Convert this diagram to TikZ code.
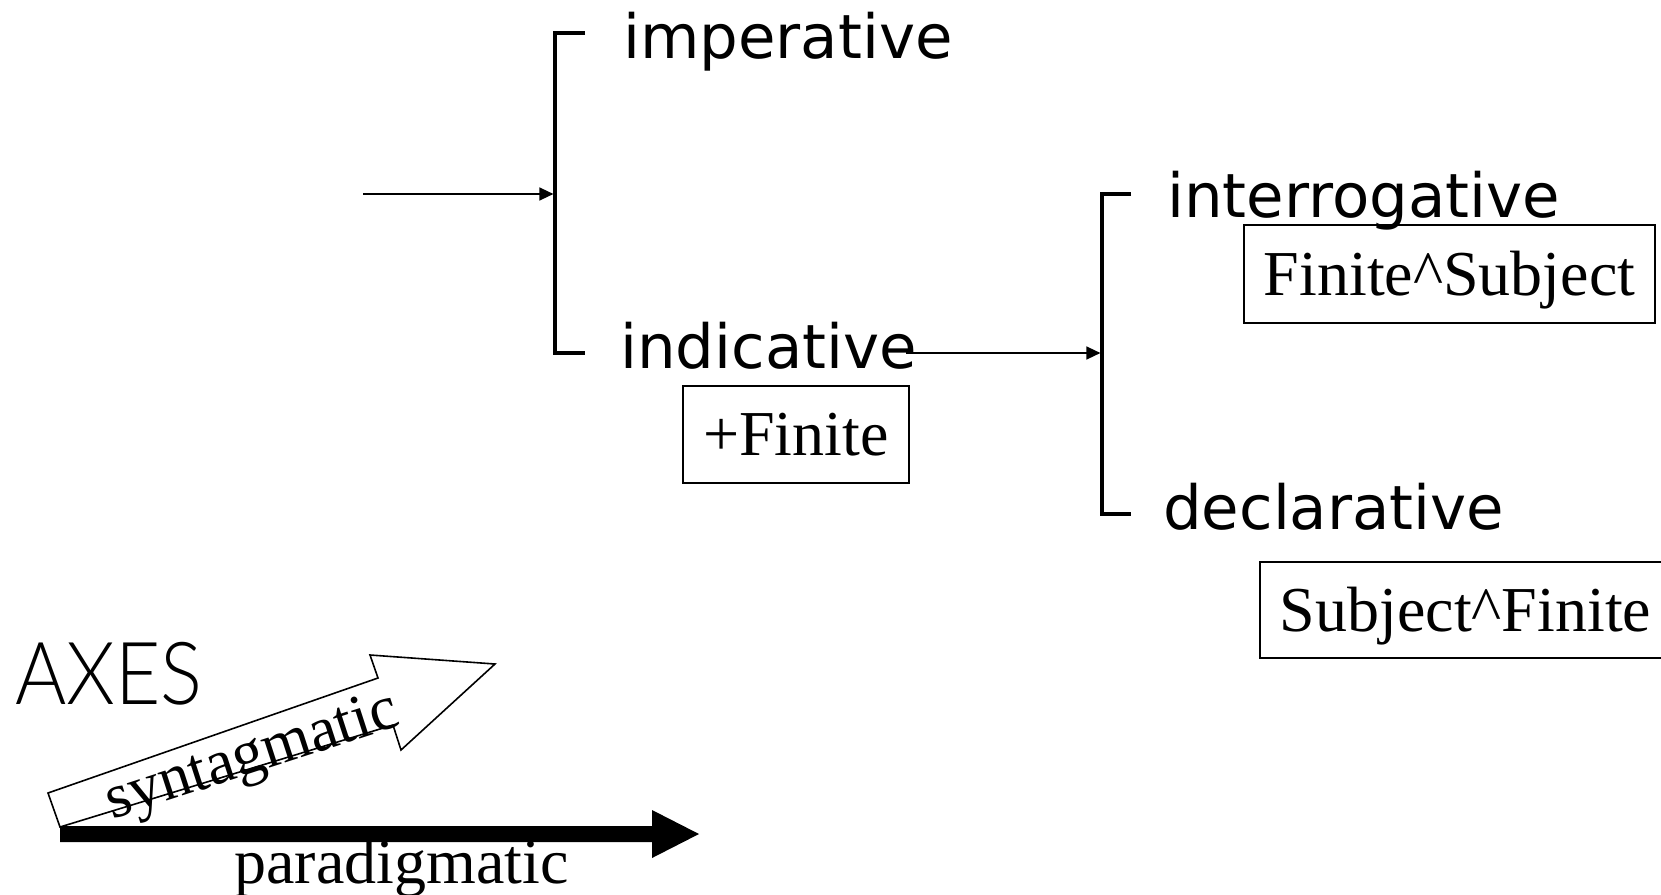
\documentclass[tikz,border=0pt]{standalone}
\usepackage{fontspec}
\usepackage{graphicx}
\setmainfont{Liberation Serif}
\newfontfamily\labelfont{DejaVu Sans}
\newfontfamily\axesfont{Lato Light}
\usetikzlibrary{arrows.meta}
\begin{document}
\begin{tikzpicture}[x=1pt,y=-1pt,
  opt/.style={font=\labelfont\fontsize{61}{73}\selectfont, anchor=base west, inner sep=0pt},
  realbox/.style={draw, line width=1.6pt, font=\fontsize{64}{76}\selectfont, inner sep=0pt, text height=42pt, text depth=0pt},
  realtext/.style={font=\fontsize{64}{76}\selectfont, inner sep=0pt, text height=42pt, text depth=0pt},
  boxline/.style={line width=1.6pt},
  bracketline/.style={line width=3.2pt, line cap=butt, line join=miter},
  feed/.style={line width=1.5pt, -{Triangle[length=14pt,width=13pt]}, shorten >=1.6pt},
  axislabel/.style={inner sep=0pt, anchor=base}
]
\useasboundingbox (0,0) rectangle (1661,894);
\clip (0,0) rectangle (1661,894);

% system choices
\node[opt] (imp) at (623,58) {imperative};
\node[opt] (ind) at (620,368) {indicative};
\node[opt] (int) at (1167,217) {interrogative};
\node[opt] (dec) at (1163,529) {declarative};

% realisation boxes
\node[realbox, minimum width=226pt, minimum height=97pt] (fin) at (796,434.5) {+Finite};
\node[realbox, minimum width=411pt, minimum height=98pt] (fs) at (1449.5,274) {Finite\textasciicircum Subject};
\node[realtext] (sf) at (1465.5,610) {Subject\textasciicircum Finite};
\draw[boxline] (1700,562) -- (1260,562) -- (1260,658) -- (1700,658);

% bracket 1
\coordinate (b1t) at (555,33);
\coordinate (b1b) at (555,353);
\coordinate (b1m) at (555,194);
\coordinate (t1a) at (585,33);
\coordinate (t1b) at (585,353);
\draw[bracketline] (t1a) -- (b1t) -- (b1b) -- (t1b);
\coordinate (s1) at (363,194);
\draw[feed] (s1) -- (b1m);

% bracket 2
\coordinate (b2t) at (1102,194);
\coordinate (b2b) at (1102,514);
\coordinate (b2m) at (1102,353);
\coordinate (t2a) at (1131,194);
\coordinate (t2b) at (1131,514);
\draw[bracketline] (t2a) -- (b2t) -- (b2b) -- (t2b);
\coordinate (s2) at (906,353);
\draw[feed] (s2) -- (b2m);

% AXES
\node[inner sep=0pt, anchor=base west] (axes) at (15,704)
  {\axesfont\fontsize{87}{99}\selectfont\scalebox{0.9}[1]{AXES}};

% syntagmatic hollow arrow
\draw[line width=1.6pt, line join=miter, fill=white]
  (48,793) -- (378,678) -- (370,655) -- (495,664) -- (401,750) -- (393,725) -- (60,827) -- cycle;
\node[axislabel, rotate=18, font=\fontsize{63}{75}\selectfont] (syn) at (257,772) {syntagmatic};

% paradigmatic solid arrow
\fill (60,826) -- (652,826) -- (652,810) -- (699,834) -- (652,858) -- (652,842) -- (60,842) -- cycle;
\node[axislabel, font=\fontsize{64}{76}\selectfont] (par) at (401.5,883) {paradigmatic};
\end{tikzpicture}
\end{document}
